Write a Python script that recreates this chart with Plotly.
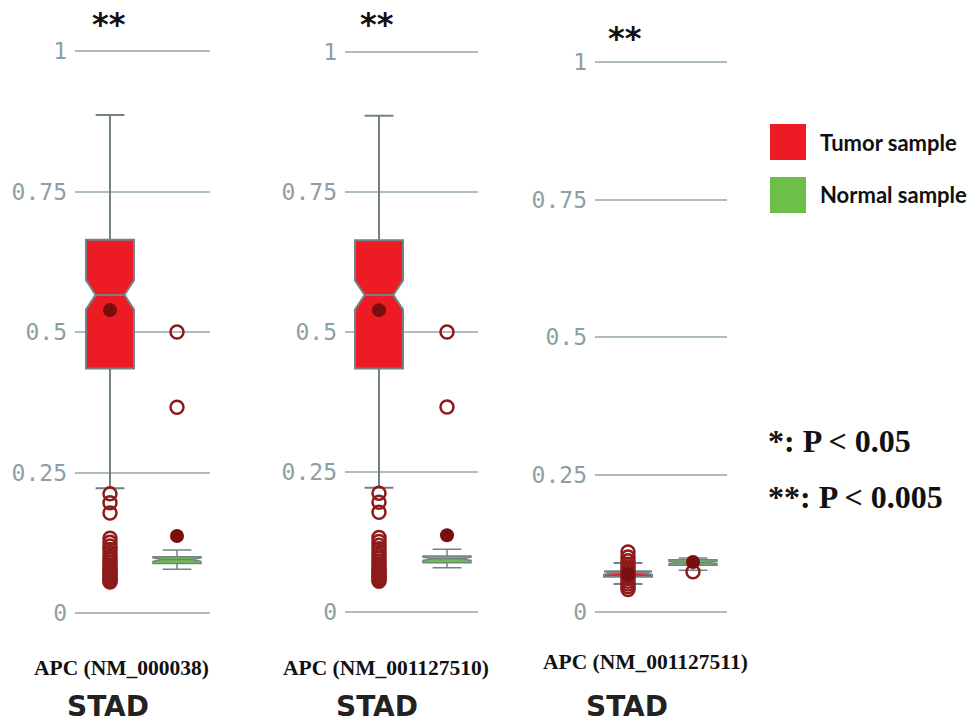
import plotly.graph_objects as go

W, H = 971, 722

# ---------------- data ----------------
genes = ["APC (NM_000038)", "APC (NM_001127510)", "APC (NM_001127511)"]
cancer = ["STAD", "STAD", "STAD"]
signif = ["**", "**", "**"]
groups = ["Tumor sample", "Normal sample"]

tumor_q1 = [0.435, 0.435, 0.064]
tumor_median = [0.566, 0.566, 0.071]
tumor_q3 = [0.664, 0.664, 0.074]
tumor_low = [0.222, 0.222, 0.051]
tumor_high = [0.886, 0.886, 0.089]
tumor_mean = [0.539, 0.539, 0.068]
tumor_notch = [0.026, 0.026, 0.003]

normal_q1 = [0.088, 0.088, 0.085]
normal_median = [0.095, 0.095, 0.090]
normal_q3 = [0.100, 0.100, 0.095]
normal_low = [0.078, 0.079, 0.076]
normal_high = [0.112, 0.112, 0.098]
normal_mean = [0.137, 0.137, 0.091]
normal_notch = [0.003, 0.003, 0.002]

tumor_outliers = [
    [0.212, 0.196, 0.178, 0.133, 0.126, 0.119, 0.113, 0.107, 0.101, 0.096, 0.091,
     0.086, 0.082, 0.078, 0.074, 0.071, 0.068, 0.065, 0.062, 0.060, 0.057, 0.055],
    [0.212, 0.196, 0.178, 0.133, 0.126, 0.119, 0.113, 0.107, 0.101, 0.096, 0.091,
     0.086, 0.082, 0.078, 0.074, 0.071, 0.068, 0.065, 0.062, 0.060, 0.057, 0.055],
    [0.109, 0.100, 0.093, 0.087, 0.082, 0.077, 0.072, 0.066, 0.061, 0.056, 0.051,
     0.046, 0.041],
]
normal_outliers = [
    [0.500, 0.366],
    [0.500, 0.366],
    [0.073],
]

tick_vals = [0, 0.25, 0.5, 0.75, 1]
tick_text = ["0", "0.25", "0.5", "0.75", "1"]

# ---------------- layout geometry (pixels) ----------------
# per panel: grid left, grid right, tumor x px, normal x px, y=0 px, y=1 px
panel_geo = [
    (75, 210, 110, 177, 613, 51),
    (345, 478, 379, 447, 612, 52),
    (595, 727, 628, 693, 612, 62),
]
PAD = 0.04

RED = "#ed1c24"
GREEN = "#6cbf47"
LINE = "#738385"
OUT = "#8e1b1b"
MEAN = "#7a0e0e"
GRID = "#aebdc1"
TICK = "#8d9ea5"

fig = go.Figure()
layout = {}

for i in range(3):
    gl, gr, tx, nx, y0, y1 = panel_geo[i]
    unit = nx - tx
    xr = [(gl - tx) / unit, (gr - tx) / unit]
    yu = y0 - y1
    top = y1 - PAD * yu
    bot = y0 + PAD * yu
    sfx = "" if i == 0 else str(i + 1)
    xa, ya = "x" + sfx, "y" + sfx

    boxw = 48 / unit
    for k, (q1, md, q3, lo, hi, nt, col, lw) in enumerate([
        (tumor_q1, tumor_median, tumor_q3, tumor_low, tumor_high, tumor_notch, RED, 2),
        (normal_q1, normal_median, normal_q3, normal_low, normal_high, normal_notch, GREEN, 1.5),
    ]):
        fig.add_trace(go.Box(
            x=[k], q1=[q1[i]], median=[md[i]], q3=[q3[i]],
            lowerfence=[lo[i]], upperfence=[hi[i]],
            notched=True, notchspan=[nt[i]], notchwidth=0.2,
            width=boxw, whiskerwidth=0.6,
            fillcolor=col, line=dict(color=LINE, width=lw),
            boxpoints=False, name=groups[k], showlegend=False,
            xaxis=xa, yaxis=ya, hoverinfo="skip"))

    # outliers
    for k, outs in enumerate([tumor_outliers[i], normal_outliers[i]]):
        fig.add_trace(go.Scatter(
            x=[k] * len(outs), y=outs, mode="markers",
            marker=dict(symbol="circle-open", size=13, color=OUT,
                        line=dict(width=2.5, color=OUT)),
            showlegend=False, xaxis=xa, yaxis=ya, cliponaxis=False))
    # means
    fig.add_trace(go.Scatter(
        x=[0, 1], y=[tumor_mean[i], normal_mean[i]], mode="markers",
        marker=dict(symbol="circle", size=14, color=MEAN),
        showlegend=False, xaxis=xa, yaxis=ya, cliponaxis=False))

    layout["xaxis" + sfx] = dict(
        domain=[gl / W, gr / W], range=xr, showgrid=False, zeroline=False,
        showticklabels=False, showline=False, anchor=ya, fixedrange=True)
    layout["yaxis" + sfx] = dict(
        domain=[1 - bot / H, 1 - top / H], range=[-PAD, 1 + PAD],
        tickvals=tick_vals, ticktext=tick_text, showgrid=True,
        gridcolor=GRID, gridwidth=2, zeroline=False, showline=False,
        ticks="", ticklabelstandoff=7, anchor=xa, automargin=False,
        tickfont=dict(family="DejaVu Sans Mono", size=23, color=TICK))

annotations = []
gene_pos = [(122, 668), (386, 668), (645, 662)]
stad_pos = [(108, 706), (377, 706), (627, 706)]
star_pos = [(109, 24), (377, 24), (625, 38)]
for i in range(3):
    gx, gy = gene_pos[i]
    annotations.append(dict(x=gx / W, y=1 - gy / H, xref="paper", yref="paper",
                            xanchor="center", yanchor="middle",
                            text="<b>" + genes[i] + "</b>", showarrow=False,
                            font=dict(family="Liberation Serif", size=21.5, color="#111")))
    sx, sy = stad_pos[i]
    annotations.append(dict(x=sx / W, y=1 - sy / H, xref="paper", yref="paper",
                            xanchor="center", yanchor="middle",
                            text="<b>" + cancer[i] + "</b>", showarrow=False,
                            font=dict(family="DejaVu Sans", size=28, color="#222")))
    ax_, ay_ = star_pos[i]
    annotations.append(dict(x=ax_ / W, y=1 - ay_ / H, xref="paper", yref="paper",
                            xanchor="center", yanchor="middle",
                            text="<b>" + signif[i] + "</b>", showarrow=False,
                            font=dict(family="DejaVu Sans", size=32, color="#111")))

# legend (squares + labels)
shapes = []
leg_y = [142, 195]
leg_col = [RED, GREEN]
for j in range(2):
    cy = leg_y[j]
    shapes.append(dict(type="rect", xref="paper", yref="paper",
                       x0=770 / W, x1=806 / W, y0=1 - (cy + 18) / H, y1=1 - (cy - 18) / H,
                       fillcolor=leg_col[j], line=dict(width=0)))
    annotations.append(dict(x=818 / W, y=1 - cy / H, xref="paper", yref="paper",
                            xanchor="left", yanchor="middle",
                            text="<b>" + groups[j] + "</b>", showarrow=False,
                            font=dict(family="Lato", size=22, color="#111")))

p_text = ["*: P < 0.05", "**: P < 0.005"]
p_y = [441, 497]
for j in range(2):
    annotations.append(dict(x=766 / W, y=1 - p_y[j] / H, xref="paper", yref="paper",
                            xanchor="left", yanchor="middle",
                            text="<b>" + p_text[j] + "</b>", showarrow=False,
                            font=dict(family="Liberation Serif", size=32, color="#111")))

fig.update_layout(
    width=W, height=H, margin=dict(l=0, r=0, t=0, b=0, autoexpand=False),
    paper_bgcolor="white", plot_bgcolor="white",
    showlegend=False, annotations=annotations, shapes=shapes, **layout)

fig.write_html("out.html", config={"displayModeBar": False},
               post_script="document.body.style.margin='0';")
